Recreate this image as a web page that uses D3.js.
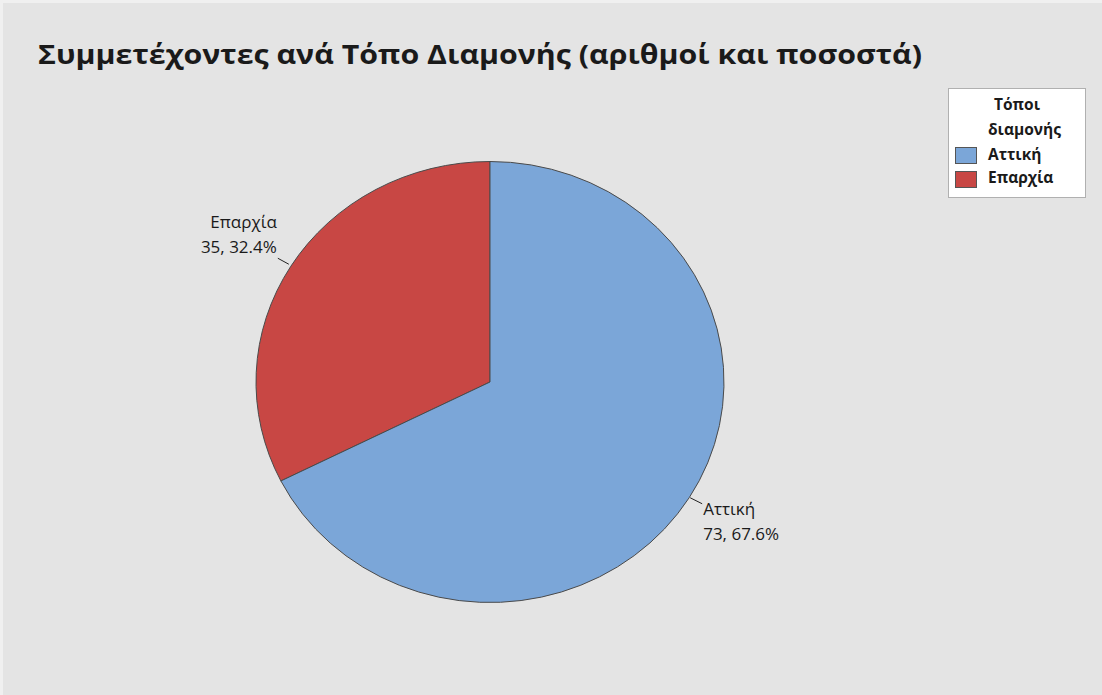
<!DOCTYPE html>
<html><head><meta charset="utf-8">
<script src="https://cdn.jsdelivr.net/npm/d3@7"></script>
<style>body{margin:0;background:#fff;}svg{display:block;}</style>
</head><body><svg id="c" width="1102" height="695"></svg>
<script>
const title = "Συμμετέχοντες ανά Τόπο Διαμονής (αριθμοί και ποσοστά)";
const categories = ["Αττική", "Επαρχία"];
const counts = [73, 35];
const legendTitle = ["Τόποι", "διαμονής"];
const colors = ["#7BA6D8", "#C84744"];

const svg = d3.select("#c");
const font = "'Open Sans', 'Noto Sans', sans-serif";
svg.append("rect").attr("x",0).attr("y",0).attr("width",1102).attr("height",695).attr("fill","#f0f0f0");
svg.append("rect").attr("x",3).attr("y",3).attr("width",1099).attr("height",692).attr("fill","#e4e4e4");

svg.append("text").attr("x",38).attr("y",64).text(title)
  .attr("font-family",font).attr("font-weight","bold").attr("font-size",26).attr("fill","#1a1a1a")
  .attr("textLength",884).attr("lengthAdjust","spacingAndGlyphs");

const total = d3.sum(counts);
const cx = 490, cy = 382, rx = 234, ry = 220.5;
const data = categories.map((c,i)=>({c, v:counts[i], col:colors[i]}));
const off = 2*Math.PI*counts[1]/total;
const pieData = d3.pie().sort(null).value(d=>d.v)
  .startAngle(-off).endAngle(2*Math.PI - off)([data[1], data[0]]);
const arc = d3.arc().innerRadius(0).outerRadius(ry);
const g = svg.append("g").attr("transform",`translate(${cx},${cy}) scale(${rx/ry},1)`);
g.selectAll("path").data(pieData).join("path")
  .attr("d",arc).attr("fill",d=>d.data.col)
  .attr("stroke","#4a4a4a").attr("stroke-width",1).attr("vector-effect","non-scaling-stroke");

// labels
const lfs = 17;
pieData.forEach(d=>{
  const mid = (d.startAngle+d.endAngle)/2;
  const sx = Math.sin(mid), sy = -Math.cos(mid);
  const p0 = [cx + rx*sx, cy + ry*sy];
  const pct = (d.data.v/total*100).toFixed(1);
  const left = sx < 0;
  const lbl = [d.data.c, `${d.data.v}, ${pct}%`];
  if (left) {
    svg.append("line").attr("x1",p0[0]-2).attr("y1",p0[1]-2).attr("x2",p0[0]-13).attr("y2",p0[1]-8)
      .attr("stroke","#222").attr("stroke-width",1);
    const tx = p0[0]-14, ty = p0[1]-38;
    lbl.forEach((t,i)=>svg.append("text").attr("x",tx).attr("y",ty+i*25).attr("text-anchor","end").text(t)
      .attr("font-family",font).attr("font-size",lfs).attr("fill","#1a1a1a"));
  } else {
    svg.append("line").attr("x1",p0[0]+1).attr("y1",p0[1]).attr("x2",p0[0]+13).attr("y2",p0[1]+6)
      .attr("stroke","#222").attr("stroke-width",1);
    const tx = p0[0]+14, ty = p0[1]+17;
    lbl.forEach((t,i)=>svg.append("text").attr("x",tx).attr("y",ty+i*25).text(t)
      .attr("font-family",font).attr("font-size",lfs).attr("fill","#1a1a1a"));
  }
});

// legend
const lg = svg.append("g");
lg.append("rect").attr("x",948.5).attr("y",88.5).attr("width",137).attr("height",109)
  .attr("fill","#fff").attr("stroke","#b0b0b0");
legendTitle.forEach((t,i)=>{
  lg.append("text").attr("x",i===0?1017:988).attr("y",110+i*25).attr("text-anchor",i===0?"middle":"start").text(t)
    .attr("font-family",font).attr("font-weight","bold").attr("font-size",15.5).attr("fill","#1a1a1a");
});
categories.forEach((c,i)=>{
  lg.append("rect").attr("x",955.5).attr("y",147.5+i*24).attr("width",21).attr("height",16)
    .attr("fill",colors[i]).attr("stroke","#555");
  lg.append("text").attr("x",988).attr("y",160+i*23).text(c)
    .attr("font-family",font).attr("font-weight","bold").attr("font-size",15.5).attr("fill","#1a1a1a");
});
</script></body></html>
